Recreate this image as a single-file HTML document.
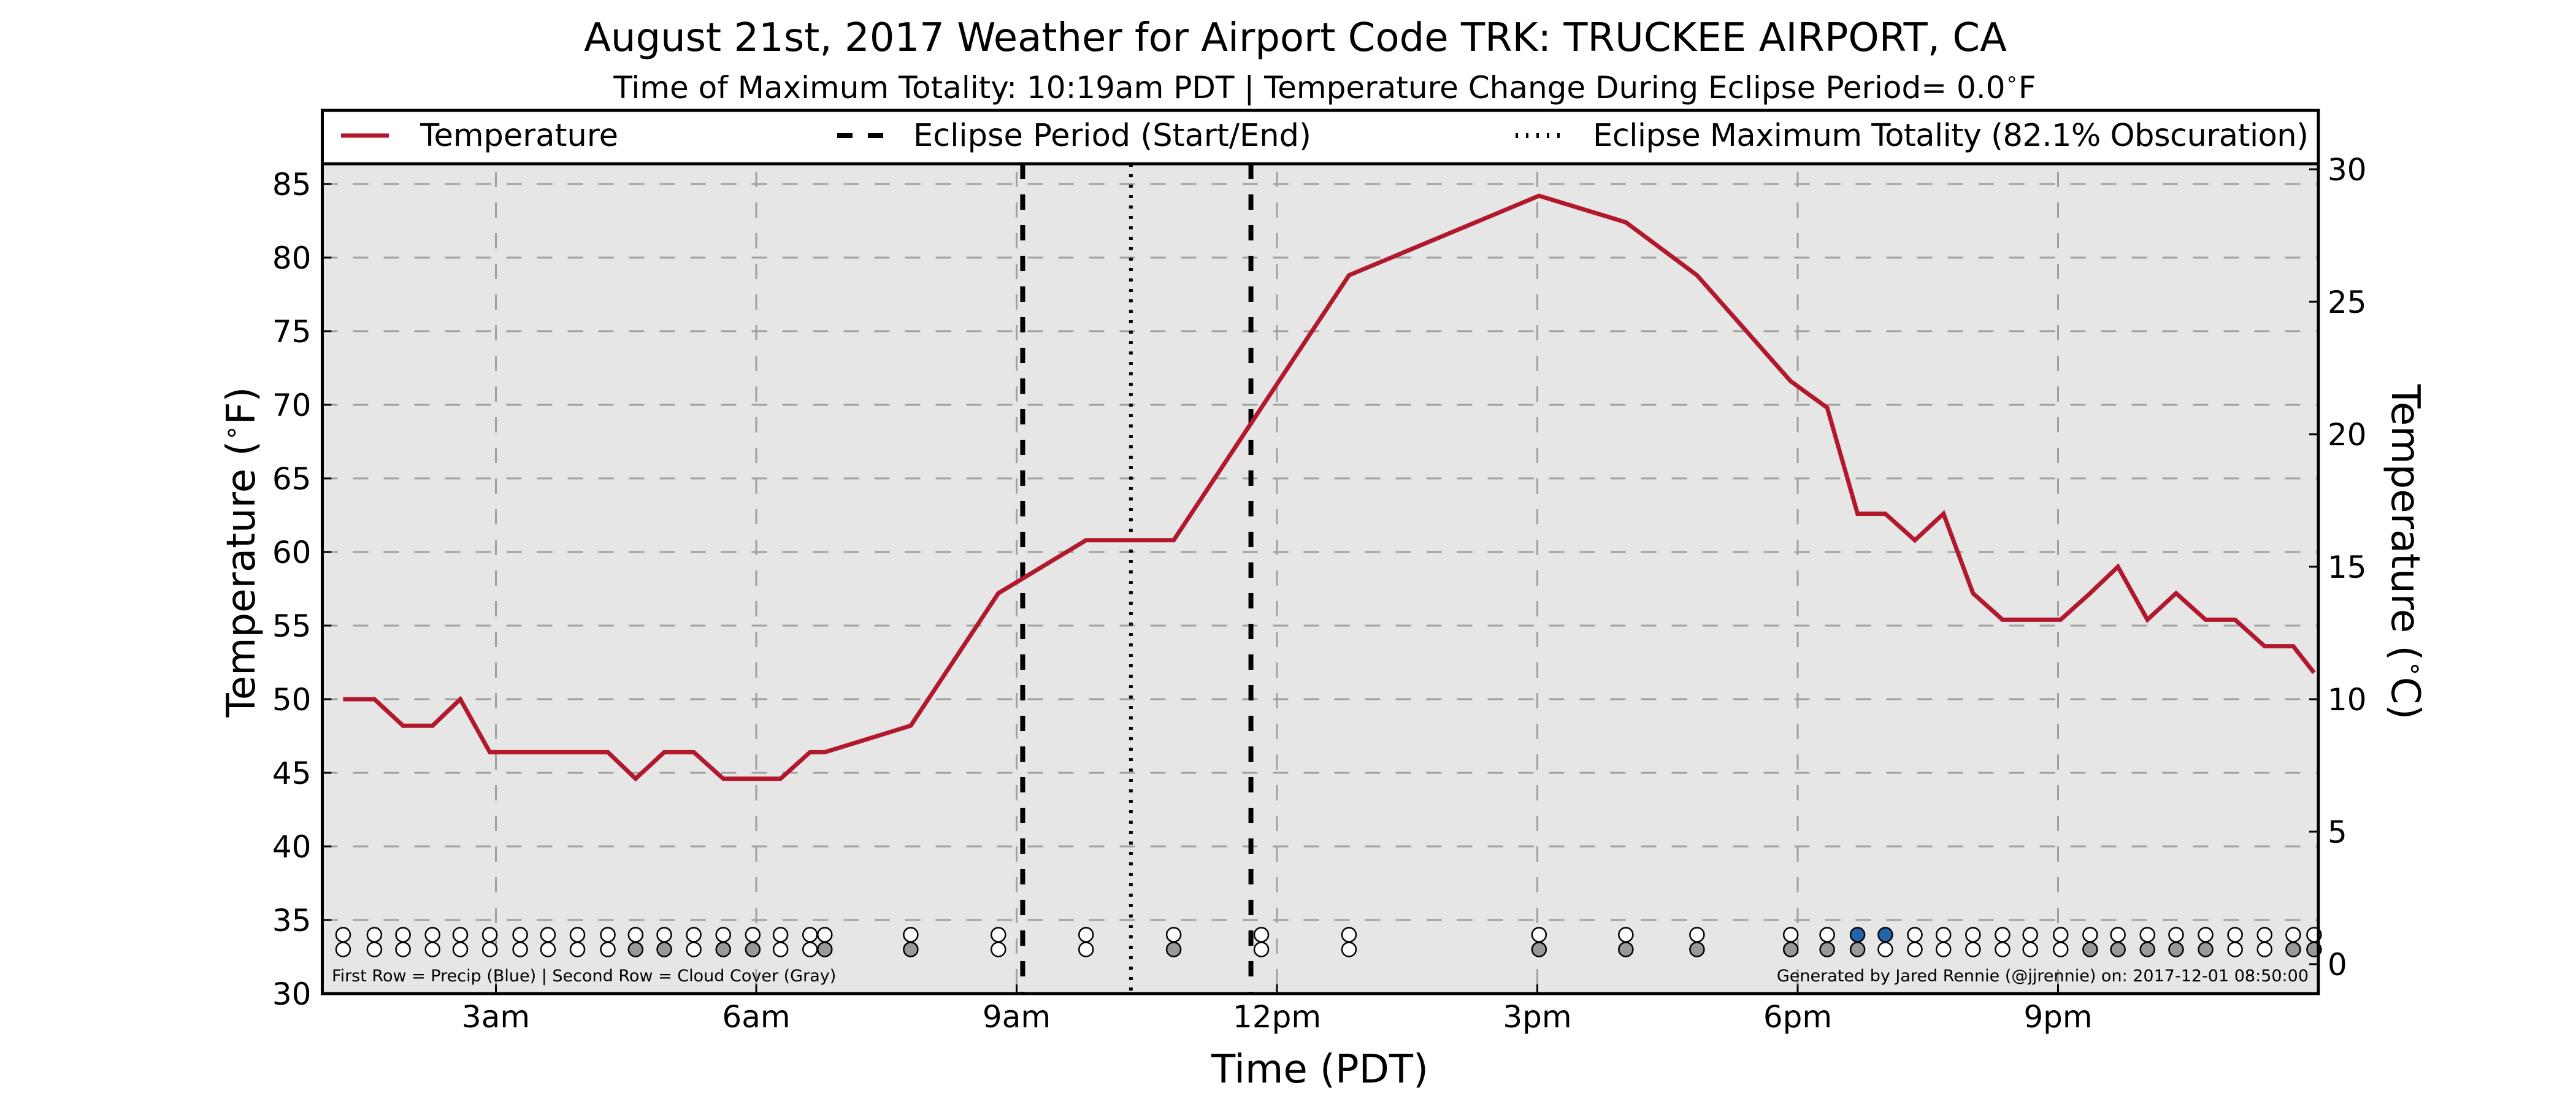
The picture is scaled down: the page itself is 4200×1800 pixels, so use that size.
<!DOCTYPE html>
<html><head><meta charset="utf-8"><style>
html,body{margin:0;padding:0;background:#fff}
svg{display:block;font-family:"DejaVu Sans","Liberation Sans",sans-serif}
</style></head><body>
<svg id="chart" width="4200" height="1800" viewBox="0 0 4200 1800" xmlns="http://www.w3.org/2000/svg">
<rect x="0" y="0" width="4200" height="1800" fill="#fff"/>
<text x="2112" y="83" font-size="64" text-anchor="middle">August 21st, 2017 Weather for Airport Code TRK: TRUCKEE AIRPORT, CA</text>
<text x="2160" y="160" font-size="50" text-anchor="middle">Time of Maximum Totality: 10:19am PDT | Temperature Change During Eclipse Period= 0.0<tspan font-size="34" dy="-20">∘</tspan><tspan dy="20">F</tspan></text>
<rect x="525.5" y="180" width="3254.5" height="1440" fill="#e6e6e6"/>
<g id="grid"></g>
<g id="eclipse"></g>
<g id="series"></g>
<g id="markers"></g>
<text x="541" y="1600" font-size="27">First Row = Precip (Blue) | Second Row = Cloud Cover (Gray)</text>
<text x="3764" y="1600" font-size="27" text-anchor="end">Generated by Jared Rennie (@jjrennie) on: 2017-12-01 08:50:00</text>
<g>
<rect x="525.5" y="180" width="3254.5" height="87" fill="#fff" stroke="#000" stroke-width="5"/>
<line x1="556" y1="221" x2="634" y2="221" stroke="#b2182b" stroke-width="7"/>
<text x="685" y="238" font-size="51">Temperature</text>
<line x1="1365" y1="221" x2="1440" y2="221" stroke="#000" stroke-width="8" stroke-dasharray="25,25"/>
<text x="1489" y="238" font-size="51">Eclipse Period (Start/End)</text>
<line x1="2471" y1="221" x2="2545" y2="221" stroke="#000" stroke-width="8" stroke-dasharray="4,13"/>
<text x="2597" y="238" font-size="51" textLength="1167">Eclipse Maximum Totality (82.1% Obscuration)</text>
</g>
<rect x="525.5" y="180" width="3254.5" height="1440" fill="none" stroke="#000" stroke-width="5"/>
<g id="axes"></g>
<text transform="translate(415,900) rotate(-90)" font-size="64" text-anchor="middle">Temperature (<tspan font-size="42" dy="-24">∘</tspan><tspan dy="24">F)</tspan></text>
<text transform="translate(3900,900) rotate(90)" font-size="64" text-anchor="middle">Temperature (<tspan font-size="42" dy="-24">∘</tspan><tspan dy="24">C)</tspan></text>
<text x="2152" y="1765" font-size="64" text-anchor="middle">Time (PDT)</text>
</svg>
<script>
// observation times (decimal hours PDT)
const obsHours = [1.24,1.6,1.93,2.27,2.59,2.93,3.28,3.6,3.94,4.29,4.61,4.94,5.28,5.62,5.96,6.28,6.62,6.79,7.78,8.79,9.8,10.81,11.82,12.83,15.02,16.02,16.84,17.92,18.34,18.69,19.01,19.35,19.68,20.02,20.36,20.68,21.03,21.37,21.69,22.03,22.36,22.7,23.04,23.38,23.71,23.95];
// temperature (°F)
const tempF = [50,50,48.2,48.2,50,46.4,46.4,46.4,46.4,46.4,44.6,46.4,46.4,44.6,44.6,44.6,46.4,46.4,48.2,57.2,60.8,60.8,69.8,78.8,84.2,82.4,78.8,71.6,69.8,62.6,62.6,60.8,62.6,57.2,55.4,55.4,55.4,57.2,59,55.4,57.2,55.4,55.4,53.6,53.6,51.8];
// cloud cover flag (1 = gray)
const cloudFlag = [0,0,0,0,0,0,0,0,0,0,1,1,0,1,1,0,0,1,1,0,0,1,0,0,1,1,1,1,1,1,0,0,0,0,0,0,0,1,1,1,1,1,0,0,1,1];
// precip flag (1 = blue)
const precipFlag = [0,0,0,0,0,0,0,0,0,0,0,0,0,0,0,0,0,0,0,0,0,0,0,0,0,0,0,0,0,1,1,0,0,0,0,0,0,0,0,0,0,0,0,0,0,0];
const eclipseStart = 9.07, eclipseMax = 10.317, eclipseEnd = 11.70;
const yTicksF = [30,35,40,45,50,55,60,65,70,75,80,85];
const yTicksC = [0,5,10,15,20,25,30];
const xTickHours = [3,6,9,12,15,18,21];
const xTickLabels = ["3am","6am","9am","12pm","3pm","6pm","9pm"];

const NS = "http://www.w3.org/2000/svg";
const L = 525.5, R = 3780, T = 180, B = 1620;
const xS = h => L + (h - 1) * (R - L) / 23;
const yS = f => B - (f - 30) * (B - T) / 60;
function mk(tag, attrs, parent){const e=document.createElementNS(NS,tag);for(const k in attrs)e.setAttribute(k,attrs[k]);parent.appendChild(e);return e;}

const grid = document.getElementById('grid');
yTicksF.forEach(v=>{ if(v===30) return;
  const g = mk('line',{x1:L,x2:R,y1:yS(v),y2:yS(v),stroke:'#a0a0a0','stroke-width':3,'stroke-dasharray':'25,25'},grid);
  
  
});
xTickHours.forEach(h=>{
  const g = mk('line',{x1:xS(h),x2:xS(h),y1:T,y2:B,stroke:'#a0a0a0','stroke-width':3,'stroke-dasharray':'25,25'},grid);
  
  
});

const ecl = document.getElementById('eclipse');
[eclipseStart, eclipseEnd].forEach(h=>{
  const l = mk('line',{x1:xS(h),x2:xS(h),y1:267,y2:B,stroke:'#000','stroke-width':8,'stroke-dasharray':'25,25'},ecl);
  
  
});
const ml = mk('line',{x1:xS(eclipseMax),x2:xS(eclipseMax),y1:267,y2:B,stroke:'#000','stroke-width':6,'stroke-dasharray':'5,12'},ecl);



const ser = document.getElementById('series');
const pl = mk('polyline',{points:obsHours.map((h,i)=>xS(h)+','+yS(tempF[i])).join(' '),fill:'none',stroke:'#b2182b','stroke-width':7,'stroke-linejoin':'miter'},ser);



const mg = document.getElementById('markers');
obsHours.forEach((h,i)=>{
  const p = mk('circle',{cx:xS(h),cy:yS(34),r:11.5,fill:precipFlag[i]?'#2166ac':'#fff',stroke:'#000','stroke-width':2.5},mg);
  
  
  const c = mk('circle',{cx:xS(h),cy:yS(33),r:11.5,fill:cloudFlag[i]?'#999':'#fff',stroke:'#000','stroke-width':2.5},mg);
  
  
});

const ax = document.getElementById('axes');
yTicksF.forEach(v=>{
  const y=yS(v);
  const t1 = mk('line',{x1:L,x2:L+15,y1:y,y2:y,stroke:'#000','stroke-width':3},ax);
  
  
  const tx = mk('text',{x:L-18,y:y+18,'font-size':50,'text-anchor':'end'},ax);
  tx.textContent=v;
  
  
});
yTicksC.forEach(v=>{
  const y=yS(v*9/5+32);
  const t1 = mk('line',{x1:R-15,x2:R,y1:y,y2:y,stroke:'#000','stroke-width':3},ax);
  
  
  const tx = mk('text',{x:R+15,y:y+18,'font-size':50,'text-anchor':'start'},ax);
  tx.textContent=v;
  
  
});
xTickHours.forEach((h,i)=>{
  const x=xS(h);
  const t1 = mk('line',{x1:x,x2:x,y1:B-15,y2:B,stroke:'#000','stroke-width':3},ax);
  
  
  const tx = mk('text',{x:x,y:1675,'font-size':50,'text-anchor':'middle'},ax);
  tx.textContent=xTickLabels[i];
  
  
});
</script>
</body></html>
